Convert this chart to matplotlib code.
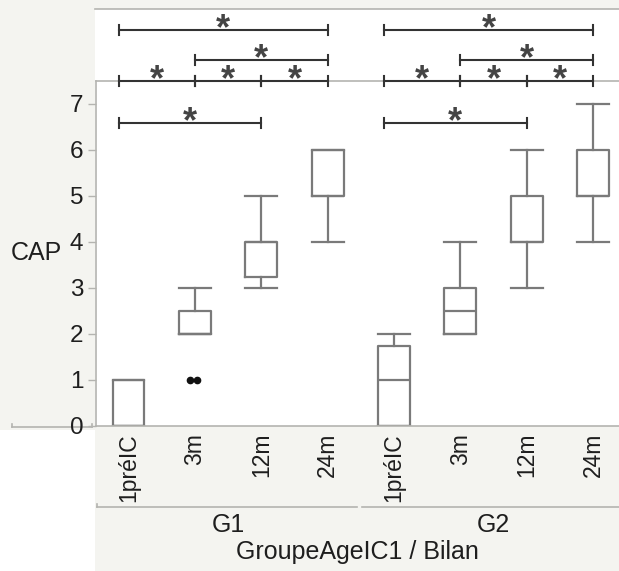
import matplotlib
matplotlib.use("Agg")
import matplotlib.pyplot as plt
from matplotlib.patches import Rectangle
from matplotlib.lines import Line2D

plt.rcParams['font.family'] = ['Liberation Sans', 'DejaVu Sans']

# ---------------- data ----------------
groups = ["G1", "G2"]
bilans = ["1préIC", "3m", "12m", "24m"]
tick_labels = bilans * 2
whislo = [0, 2, 3, 4, 0, 2, 3, 4]
q1     = [0, 2, 3.25, 5, 0, 2, 4, 5]
med    = [0, 2, 4, 5, 1, 2.5, 4, 5]
q3     = [1, 2.5, 4, 6, 1.75, 3, 5, 6]
whishi = [1, 3, 5, 6, 2, 4, 6, 7]
flier_cat = [1, 1]
flier_val = [1, 1]
flier_jitter = [-0.07, 0.03]
# significance brackets per group: (from bilan index, to bilan index, row)
sig_pairs = [(0, 1, "top"), (1, 2, "top"), (2, 3, "top"),
             (1, 3, "mid"), (0, 3, "high"), (0, 2, "in")]
y_title = "CAP"
x_title = "GroupeAgeIC1 / Bilan"
yticks = [0, 1, 2, 3, 4, 5, 6, 7]

# ---------------- figure ----------------
W, H = 619, 571
fig = plt.figure(figsize=(W / 100, H / 100), dpi=100)
fig.patch.set_facecolor("white")
BG = "#f4f4f0"
GRID = "#b4b4b0"
TXT = "#1e1e1e"
FS = 18

def fx(x):
    return x / W

def fy(y):
    return 1 - y / H

def frect(x0, y0, x1, y1, color):
    fig.patches.append(Rectangle((fx(x0), fy(y1)), fx(x1) - fx(x0), fy(y0) - fy(y1),
                                 transform=fig.transFigure, facecolor=color,
                                 edgecolor="none", zorder=-5))

def fline(xs, ys, color=GRID, lw=1.2):
    fig.lines.append(Line2D([fx(v) for v in xs], [fy(v) for v in ys],
                            transform=fig.transFigure, color=color, lw=lw, zorder=-4))

frect(0, 0, W, 9, BG)          # top strip
frect(0, 0, 95, 430, BG)       # left panel
frect(95, 426, W, H, BG)       # bottom panel
fline([95, W], [9, 9])         # top border of upper area
fline([12, 92], [427, 427])
fline([12, 12], [424, 427])
fline([92, 92], [424, 427])
# group separators
fline([97, 357], [507, 507])
fline([97, 97], [507, 504])
fline([362, W], [507, 507])

ax = fig.add_axes([fx(96), fy(426), fx(W) - fx(96), fy(81) - fy(426)])
ax.set_zorder(2)
ax.set_facecolor("white")
positions = list(range(len(tick_labels)))
ax.set_xlim(-0.49, 7.39)
ax.set_ylim(0, 7.5)

stats = []
for i in positions:
    stats.append(dict(whislo=whislo[i], q1=q1[i], med=med[i], q3=q3[i],
                      whishi=whishi[i], fliers=[]))
box_col = "#7a7a7a"
lp = dict(color=box_col, lw=1.6)
ax.bxp(stats, positions=positions, widths=0.48, capwidths=0.48,
       boxprops=lp, whiskerprops=lp, capprops=lp, medianprops=lp,
       showfliers=False, manage_ticks=False)
ax.plot([flier_cat[k] + flier_jitter[k] for k in range(len(flier_val))], flier_val,
        "o", color="#111111", ms=4.5, ls="none")

ax.spines["right"].set_visible(False)
for s in ["left", "bottom", "top"]:
    ax.spines[s].set_color(GRID)
    ax.spines[s].set_linewidth(1.2)

ax.set_yticks(yticks)
ax.tick_params(axis="y", length=6, width=1, color=GRID, pad=3, labelsize=17.5,
               labelcolor=TXT)
ax.set_xticks(positions)
ax.set_xticklabels(tick_labels, rotation=90, va="top", ha="center")
ax.tick_params(axis="x", length=0, pad=5, labelsize=16.5, labelcolor=TXT)

fig.text(fx(11), fy(253), y_title, ha="left", va="center", fontsize=FS, color=TXT)
fig.canvas.draw()
for gi, g in enumerate(groups):
    xc = ax.transData.transform((gi * 4 + 1.5, 0))[0] / (fig.dpi * fig.get_figwidth())
    fig.text(xc, fy(525), g, ha="center", va="center", fontsize=FS, color=TXT)
fig.text(fx(357), fy(552), x_title, ha="center", va="center", fontsize=FS, color=TXT)

# brackets
row_y = {"top": 7.5, "mid": 7.95, "high": 8.6, "in": 6.58}
br_col = "#333333"
tick_h = 0.11
first_offset = -0.15

def bx(gi, b):
    x = gi * 4 + b
    if b == 0:
        x += first_offset
    return x

for gi in range(len(groups)):
    for a, b, row in sig_pairs:
        y = row_y[row]
        x1, x2 = bx(gi, a), bx(gi, b)
        ax.plot([x1, x2], [y, y], color=br_col, lw=1.5, clip_on=False, zorder=5)
        for xx in (x1, x2):
            ax.plot([xx, xx], [y - tick_h, y + tick_h], color=br_col, lw=1.5,
                    clip_on=False, zorder=5)
        ax.annotate("*", xy=((x1 + x2) / 2, y), xytext=(0, -9),
                    textcoords="offset pixels", ha="center", va="baseline",
                    fontsize=26, fontweight="bold", color="#444444",
                    annotation_clip=False, zorder=6)

fig.savefig("out.png", dpi=100, facecolor=fig.get_facecolor())
